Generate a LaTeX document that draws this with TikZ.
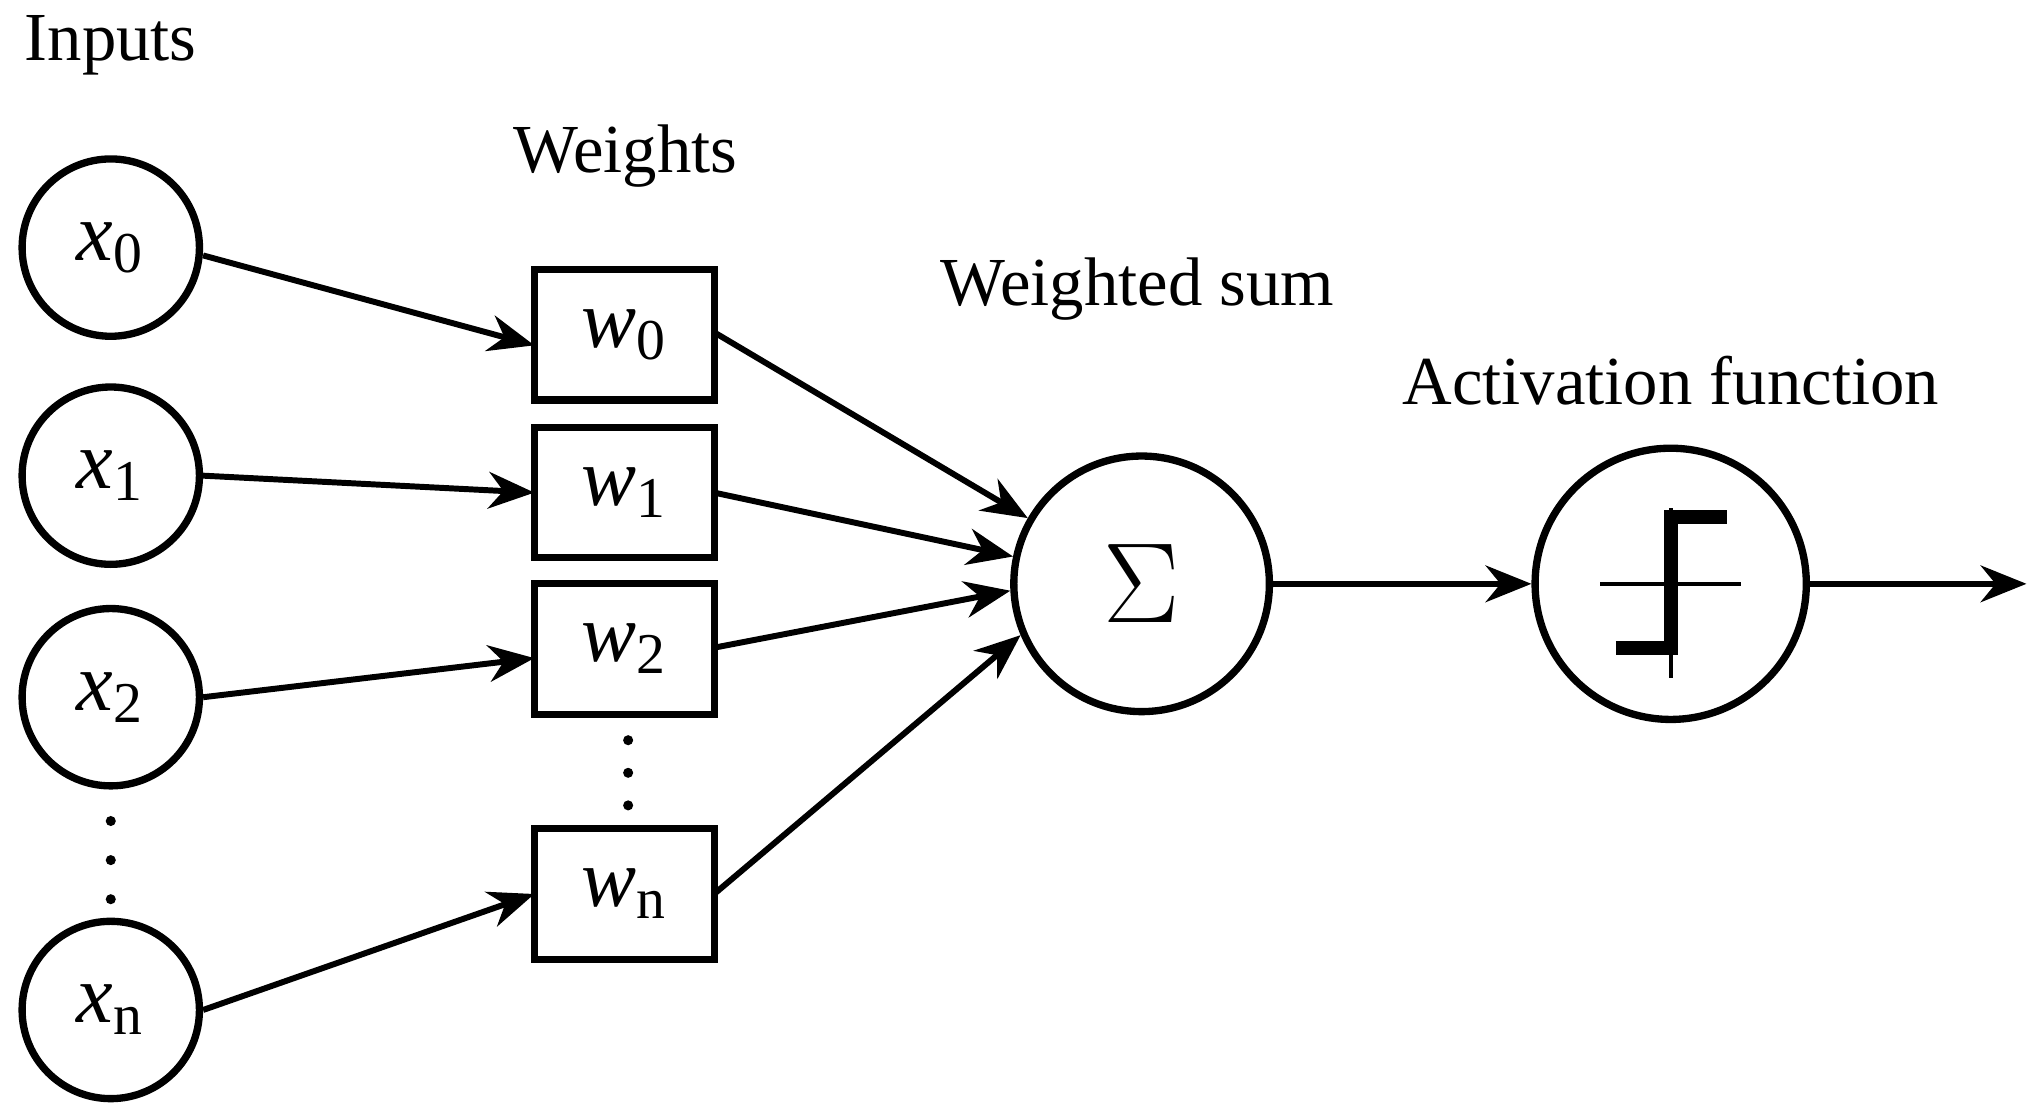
\documentclass[tikz,border=0pt]{standalone}
\usepackage{fontspec}
\setmainfont{Liberation Serif}
\usetikzlibrary{arrows.meta}
\begin{document}
\begin{tikzpicture}[x=0.01cm,y=-0.01cm,
  inp/.style={circle,draw,line width=1.6pt,minimum size=1.36cm,inner sep=0pt,font=\fontsize{18}{20}\selectfont},
  wbox/.style={draw,line width=1.6pt,minimum width=1.38cm,minimum height=1.0cm,inner sep=0pt,font=\fontsize{18}{20}\selectfont},
  lab/.style={font=\fontsize{15}{17}\selectfont},
  dot/.style={fill,circle,inner sep=0pt,minimum size=2.2pt},
  arr/.style={line width=1.3pt,-{Stealth[length=10pt,width=8pt]}}]
\useasboundingbox (0,0) rectangle (1560,855);
\node[inp] (x0) at (85,190) {\textit{x}\textsubscript{0}};
\node[inp] (x1) at (85,365) {\textit{x}\textsubscript{1}};
\node[inp] (x2) at (85,535) {\textit{x}\textsubscript{2}};
\node[inp] (xn) at (85,775) {\textit{x}\textsubscript{n}};
\foreach \y [count=\i] in {630,660,690} \node[dot] (dx\i) at (85,\y) {};
\node[wbox] (w0) at (479,257) {\textit{w}\textsubscript{0}};
\node[wbox] (w1) at (479,378) {\textit{w}\textsubscript{1}};
\node[wbox] (w2) at (479,498) {\textit{w}\textsubscript{2}};
\node[wbox] (wn) at (479,686) {\textit{w}\textsubscript{n}};
\foreach \y [count=\i] in {568,593,618} \node[dot] (dw\i) at (482,\y) {};
\node[circle,draw,line width=1.6pt,minimum size=1.96cm,inner sep=0pt,font=\fontsize{38}{40}\selectfont] (s) at (876,448) {$\Sigma$};
\node[circle,draw,line width=1.6pt,minimum size=2.08cm,inner sep=0pt] (a) at (1282,448) {};
\node[lab] (li) at (85,35) {Inputs};
\node[lab] (lw) at (480,120) {Weights};
\node[lab] (ls) at (873,222) {Weighted sum};
\node[lab] (la) at (1282,292) {Activation function};
\coordinate (e0) at (410,265);
\coordinate (e1) at (410,378);
\coordinate (e2) at (410,505);
\coordinate (en) at (410,686);
\draw[arr] (x0.east) ++(0,6) -- (e0);
\draw[arr] (x1.east) -- (e1);
\draw[arr] (x2.east) -- (e2);
\draw[arr] (xn.east) -- (en);
\draw[arr] (548,255) -- (s.150);
\draw[arr] (548,378) -- (s.168);
\draw[arr] (548,497) -- (s.183);
\draw[arr] (548,686) -- (s.203);
\draw[arr] (s) -- (a);
\coordinate (out) at (1555,448);
\draw[arr] (a) -- (out);
\draw[line width=0.8pt] (1228,448) -- (1336,448) (1282,390) -- (1282,520);
\draw[line width=3pt] (1240,497) -- (1282,497) -- (1282,397) -- (1325,397);
\end{tikzpicture}
\end{document}
